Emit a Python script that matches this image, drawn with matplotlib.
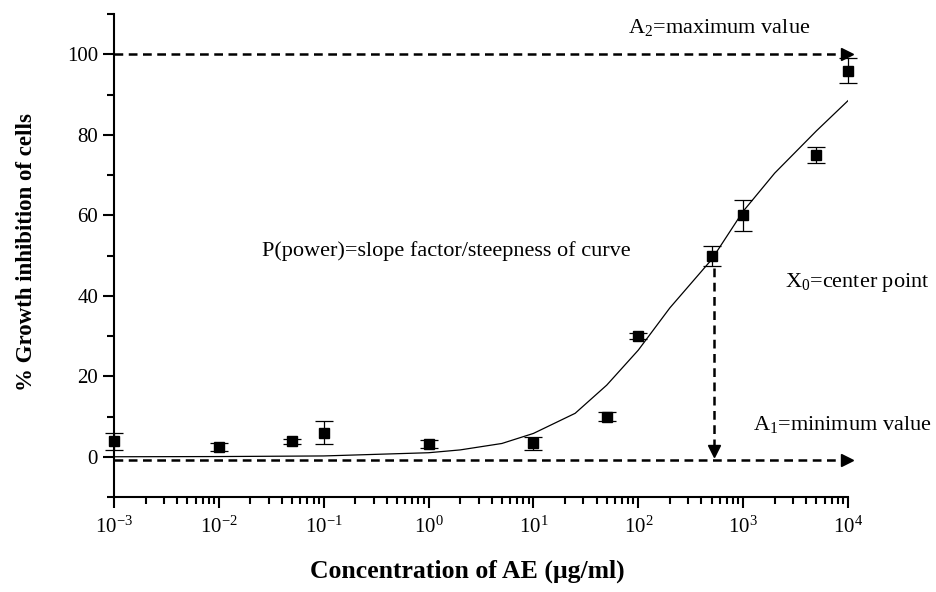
import matplotlib.pyplot as plt
import numpy as np

# measured inhibition (mean and SD) per concentration
conc = [1e-3, 1e-2, 5e-2, 1e-1, 1, 10, 50, 100, 500, 1000, 5000, 10000]
inhibition = [3.8, 2.5, 3.8, 6.0, 3.2, 3.3, 10.0, 30.0, 50.0, 60.0, 75.0, 96.0]
sd = [2.2, 1.0, 0.7, 2.8, 1.0, 1.7, 1.0, 0.7, 2.5, 3.8, 2.0, 3.0]

# fitted dose-response curve
fit_conc = [1e-3, 1e-2, 1e-1, 1, 2, 5, 10, 25, 50, 100, 200, 500, 1000, 2000, 5000, 10000]
fit_val = [0.0, 0.05, 0.2, 1.0, 1.7, 3.3, 5.8, 10.8, 17.8, 26.5, 37.0, 49.0, 61.0, 70.5, 81.0, 88.5]

# fit parameters used for the guide lines
a1 = -0.8
a2 = 100
x0 = 530

plt.rcParams['font.family'] = ['Liberation Serif', 'DejaVu Serif']
plt.rcParams['mathtext.fontset'] = 'custom'
plt.rcParams['mathtext.rm'] = 'Liberation Serif'
plt.rcParams['mathtext.it'] = 'Liberation Serif:italic'
plt.rcParams['mathtext.bf'] = 'Liberation Serif:bold'

fig = plt.figure(figsize=(9.37, 5.92), dpi=100)
ax = fig.add_axes([0.1217, 0.1605, 0.7833, 0.8155])

ax.plot(fit_conc, fit_val, color='black', lw=0.9)
eb = ax.errorbar(conc, inhibition, yerr=sd, fmt='s', color='black', ms=7,
                 elinewidth=0.9, capsize=6.5, capthick=0.9, ecolor='black')
for art in eb.lines[0:1] + tuple(eb.lines[1]) + tuple(eb.lines[2]):
    art.set_clip_on(False)

dash = dict(color='black', lw=1.8, ls=(0, (3.5, 2.2)), clip_on=False)
ax.plot([1e-3, 9.2e3], [a2, a2], **dash)
ax.plot([1e-3, 9.2e3], [a1, a1], **dash)
ax.plot([x0, x0], [47, 2.5], **dash)

# arrow heads
ax.plot([9.8e3], [a2], marker='>', color='black', ms=9, clip_on=False)
ax.plot([9.8e3], [a1], marker='>', color='black', ms=9, clip_on=False)
ax.plot([x0], [1.5], marker='v', color='black', ms=9, clip_on=False)

fs = 16
ax.text(80, 106.7, 'A$_2$=maximum value', fontsize=fs, va='center')
ax.text(0.0257, 51.2, 'P(power)=slope factor/steepness of curve', fontsize=fs, va='center')
ax.text(6.0e4, 43.3, 'X$_0$=center point', fontsize=fs, va='center', ha='right')
ax.text(6.3e4, 8.0, 'A$_1$=minimum value', fontsize=fs, va='center', ha='right')

ax.set_xscale('log')
ax.set_xlim(1e-3, 1e4)
ax.set_ylim(-10, 110)
ax.set_yticks([0, 20, 40, 60, 80, 100])
ax.set_yticks(np.arange(-10, 111, 20), minor=True)
ax.set_xticks([1e-3, 1e-2, 1e-1, 1, 10, 100, 1000, 10000])

for side in ['top', 'right']:
    ax.spines[side].set_visible(False)
for side in ['left', 'bottom']:
    ax.spines[side].set_linewidth(1.5)

ax.tick_params(which='major', direction='out', length=8, width=1.5, labelsize=15)
ax.tick_params(which='minor', direction='out', length=5, width=1.5)
ax.tick_params(axis='x', which='major', pad=6)

ax.set_xlabel('Concentration of AE (μg/ml)', fontsize=18.5, fontweight='bold')
ax.set_ylabel('% Growth inhibition of cells', fontsize=16.5, fontweight='bold')
ax.xaxis.set_label_coords(0.482, -0.13)
ax.yaxis.set_label_coords(-0.105, 0.507)

fig.savefig('out.png', dpi=100)
